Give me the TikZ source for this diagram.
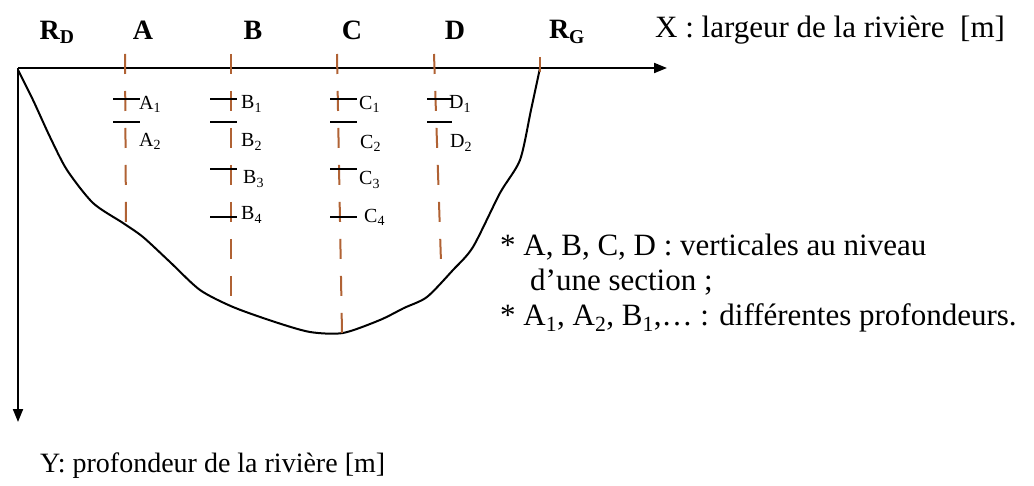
\documentclass[tikz,border=0pt]{standalone}
\usepackage{fontspec}
\setmainfont{Liberation Serif}
\usepackage{tikz}
\usetikzlibrary{arrows.meta}
\definecolor{vertbrown}{RGB}{176,98,52}
\tikzset{
  axisline/.style={line width=2pt, -{Triangle[length=13pt,width=10pt]}},
  vertline/.style={vertbrown, line width=2pt, dash pattern=on 20pt off 17pt},
  depthbar/.style={line width=1.8pt},
  toplabel/.style={font=\fontsize{28}{32}\selectfont\bfseries},
  sublabel/.style={font=\fontsize{20}{22}\selectfont, inner sep=0pt, anchor=west},
  notetext/.style={font=\fontsize{31}{34}\selectfont, inner sep=0pt, anchor=west}
}
\begin{document}
\begin{tikzpicture}[x=1pt,y=-1pt]
\useasboundingbox (0,0) rectangle (1034,486);
% axes
\coordinate (O) at (18,68);
\coordinate (xend) at (667,68);
\coordinate (yend) at (18,422);
\draw[axisline] (O) -- (xend);
\draw[axisline] (O) -- (yend);
% river bed
\draw[line width=2pt] plot[smooth, tension=0.45] coordinates {(18,70) (33,100) (50,137) (67,170) (93,203) (123,223) (143,237) (170,262) (200,290) (233,307) (275,322) (310,332) (343,333) (380,320) (404,308) (427,297) (453,270) (473,247) (500,193) (520,160) (531,110) (540,68)};
% verticals
\coordinate (Atop) at (125,54);  \coordinate (Abot) at (126,225);
\coordinate (Btop) at (231,54);  \coordinate (Bbot) at (231,300);
\coordinate (Ctop) at (337,54);  \coordinate (Cbot) at (342,333);
\coordinate (Dtop) at (434,54);  \coordinate (Dbot) at (441,262);
\draw[vertline] (Atop) -- (Abot);
\draw[vertline] (Btop) -- (Bbot);
\draw[vertline] (Ctop) -- (Cbot);
\draw[vertline] (Dtop) -- (Dbot);
\coordinate (RGtop) at (540,57);
\coordinate (RGbot) at (540,72);
\draw[vertbrown, line width=2pt] (RGtop) -- (RGbot);
% depth marks
\draw[depthbar] (113,99) -- (140,99);  \draw[depthbar] (113,122) -- (140,122);
\draw[depthbar] (210,99) -- (237,99);  \draw[depthbar] (210,122) -- (237,122);
\draw[depthbar] (210,169) -- (237,169); \draw[depthbar] (210,217) -- (237,217);
\draw[depthbar] (330,99) -- (357,99);  \draw[depthbar] (330,122) -- (357,122);
\draw[depthbar] (330,169) -- (357,169); \draw[depthbar] (330,217) -- (357,217);
\draw[depthbar] (427,99) -- (452,99);  \draw[depthbar] (427,122) -- (452,122);
% top labels
\node[toplabel] (RD) at (57,32) {R\textsubscript{D}};
\node[toplabel] (A) at (143,30) {A};
\node[toplabel] (B) at (253,30) {B};
\node[toplabel] (C) at (352,30) {C};
\node[toplabel] (D) at (455,30) {D};
\node[toplabel] (RG) at (567,32) {R\textsubscript{G}};
\node[notetext] (xlab) at (655,30) {X : largeur de la rivière \ [m]};
% depth labels
\node[sublabel] (A1) at (139,104) {A\textsubscript{1}};
\node[sublabel] (A2) at (139,141) {A\textsubscript{2}};
\node[sublabel] (B1) at (241,104) {B\textsubscript{1}};
\node[sublabel] (B2) at (241,142) {B\textsubscript{2}};
\node[sublabel] (B3) at (243,179) {B\textsubscript{3}};
\node[sublabel] (B4) at (241,215) {B\textsubscript{4}};
\node[sublabel] (C1) at (359,104) {C\textsubscript{1}};
\node[sublabel] (C2) at (360,143) {C\textsubscript{2}};
\node[sublabel] (C3) at (359,180) {C\textsubscript{3}};
\node[sublabel] (C4) at (364,217) {C\textsubscript{4}};
\node[sublabel] (D1) at (449,104) {D\textsubscript{1}};
\node[sublabel] (D2) at (450,143) {D\textsubscript{2}};
% notes
\node[notetext] (note1) at (500,247) {* A, B, C, D : verticales au niveau};
\node[notetext] (note2) at (530,282) {d’une section ;};
\node[notetext] (note3) at (500,318) {* A\textsubscript{1}, A\textsubscript{2}, B\textsubscript{1},… : différentes profondeurs.};
\node[notetext, font=\fontsize{28}{32}\selectfont] (ylab) at (40,466) {Y: profondeur de la rivière [m]};
\end{tikzpicture}
\end{document}
